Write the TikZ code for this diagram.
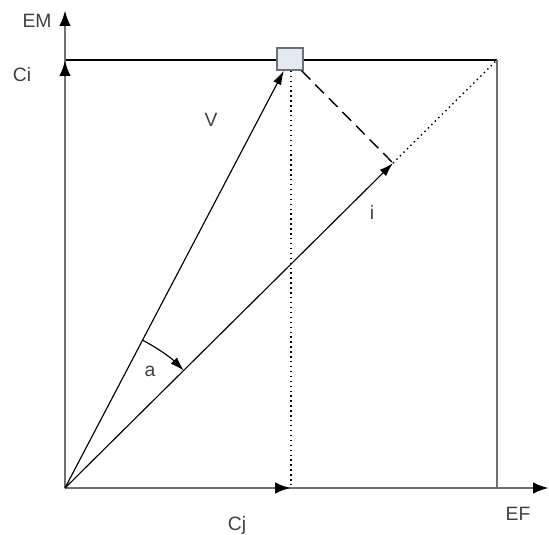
\documentclass[tikz,border=0pt]{standalone}
\usepackage{fontspec}
\setmainfont{Liberation Sans}
\usepackage{xcolor}
\usetikzlibrary{positioning,arrows.meta,calc}
\definecolor{axisGray}{HTML}{707070}
\definecolor{boxFill}{HTML}{E4EAF4}
\definecolor{labelGray}{HTML}{404040}

\begin{document}
\begin{tikzpicture}[
  x=0.02cm, y=-0.02cm,
  every node/.style={font=\fontsize{11}{12}\selectfont, text=labelGray},
  tip/.style={-{Latex[length=9pt,width=6.5pt,color=black]}},
  axis/.style={draw=axisGray, line width=1.6pt, tip},
  vec/.style={draw=black, line width=0.65pt, -{Latex[length=8pt,width=5pt]}},
  frame/.style={draw=black, line width=0.8pt},
  marker/.style={rectangle, draw=axisGray, line width=0.9pt, fill=boxFill, minimum width=0.52cm, minimum height=0.44cm, inner sep=0pt}
]
\useasboundingbox (0,0) rectangle (549,535);
% corner points
\coordinate (o) at (65,488);
\coordinate (emTip) at (65,10);
\coordinate (efTip) at (549,488);
\coordinate (ciTip) at (65,60);
\coordinate (tr) at (497,60);
\coordinate (br) at (497,488);
\coordinate (cjTip) at (291,488);
% frame and guides
\draw[frame] (ciTip) -- (tr);
\node[marker] (pt) at (290,59) {};
\coordinate (foot) at ($(o)!(pt.center)!(tr)$);
\draw[draw=axisGray, line width=1.6pt] (tr) -- (br);
\draw[line width=0.8pt, dotted] (pt.south -| cjTip) -- (cjTip);
\draw[line width=0.8pt, dotted] (foot) -- (tr);
\draw[line width=0.8pt, dash pattern=on 7pt off 4pt] (pt) -- (foot);
% axes
\draw[axis] (o) -- (emTip);
\draw[axis] (o) -- (efTip);
\draw[axis] (o) -- (ciTip);
\draw[axis] (o) -- (cjTip);
% vectors
\draw[vec] (o) -- (pt);
\draw[vec] (o) -- (foot);
\draw[vec] ($(o)!3.34cm!(pt)$) arc[start angle=62.4, end angle=44.7, radius=3.34cm];
% labels
\node (em) at (37,21) {EM};
\node (ci) at (22,75) {Ci};
\node (v) at (211,120) {V};
\node (i) at (372,212) {i};
\node (a) at (150,371) {a};
\node (cj) at (237,525) {Cj};
\node (ef) at (518,514) {EF};
\end{tikzpicture}
\end{document}
